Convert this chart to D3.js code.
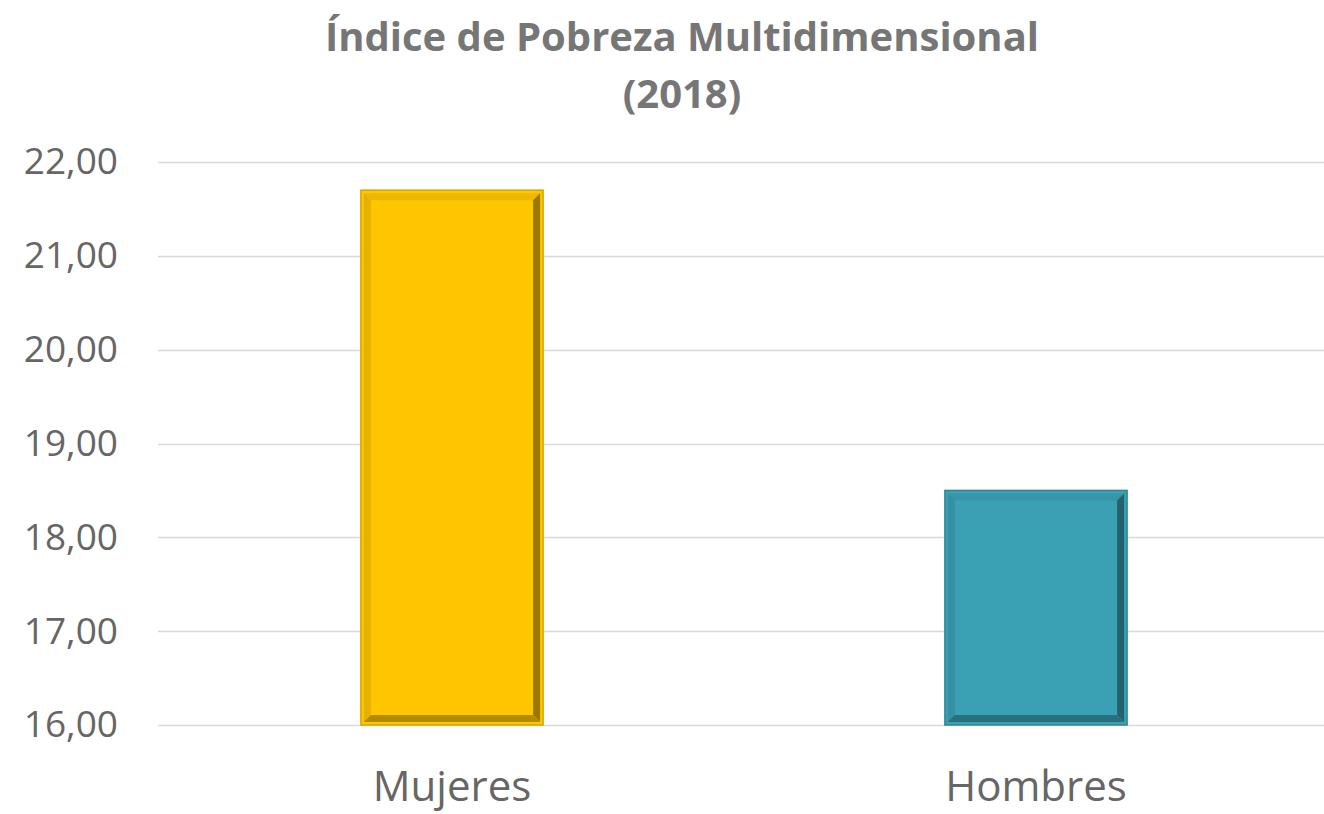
<!DOCTYPE html>
<html>
<head>
<meta charset="utf-8">
<script src="https://cdn.jsdelivr.net/npm/d3@7"></script>
<style>
  body { margin: 0; background: #fff; }
  text { font-family: "Open Sans", "Liberation Sans", sans-serif; }
</style>
</head>
<body>
<div id="chart"></div>
<script>
// data
const categories = ['Mujeres', 'Hombres'];
const values = [21.70, 18.50];
const barColors = ['#FFC600', '#3AA0B4'];
const yTicks = [16, 17, 18, 19, 20, 21, 22];
const titleLines = ['Índice de Pobreza Multidimensional', '(2018)'];

const W = 1324, H = 814;
const margin = {top: 162, right: 0, bottom: 89, left: 158};

const svg = d3.select('#chart').append('svg')
    .attr('width', W)
    .attr('height', H);

const yScale = d3.scaleLinear()
    .domain([16, 22])
    .range([H - margin.bottom, margin.top]);

const xScale = d3.scaleBand()
    .domain(categories)
    .range([margin.left + 2, W + 4])
    .paddingInner(0.688)
    .paddingOuter(0.344);

// gridlines
svg.append('g')
    .selectAll('line')
    .data(yTicks)
    .enter().append('line')
    .attr('x1', margin.left)
    .attr('x2', W)
    .attr('y1', d => Math.round(yScale(d)) + 0.5)
    .attr('y2', d => Math.round(yScale(d)) + 0.5)
    .attr('stroke', '#D9D9D9')
    .attr('stroke-width', 1.5);

// y axis labels
const yAxis = svg.append('g')
    .attr('transform', `translate(${margin.left - 40}, 0)`)
    .call(d3.axisLeft(yScale).tickValues(yTicks).tickSize(0)
        .tickFormat(d => d3.format('.2f')(d).replace('.', ',')));
yAxis.select('.domain').remove();
yAxis.selectAll('text')
    .attr('font-size', 37)
    .attr('fill', '#666666')
    .attr('text-anchor', 'end')
    .attr('x', 0)
    .style('font-family', '"Open Sans", sans-serif');

// x axis labels
const xAxis = svg.append('g')
    .attr('transform', `translate(0, ${H - margin.bottom})`)
    .call(d3.axisBottom(xScale).tickSize(0));
xAxis.select('.domain').remove();
xAxis.selectAll('text')
    .attr('font-size', 42)
    .attr('fill', '#666666')
    .attr('y', 46)
    .attr('dy', '0.71em')
    .style('font-family', '"Open Sans", sans-serif');

// bars with bevel
const bars = svg.append('g').selectAll('g')
    .data(categories)
    .enter().append('g')
    .attr('class', 'bar');

bars.append('rect')
    .attr('x', d => xScale(d))
    .attr('y', (d, i) => yScale(values[i]))
    .attr('width', xScale.bandwidth())
    .attr('height', (d, i) => yScale(16) - yScale(values[i]))
    .attr('fill', (d, i) => barColors[i])
    .attr('stroke', (d, i) => d3.color(barColors[i]).darker(0.5))
    .attr('stroke-width', 1.5);

// bevel edges (top, left, right, bottom)
const inset = 3, bw = 7;
function bevel(d, i) {
    const x0 = xScale(d) + inset, x1 = xScale(d) + xScale.bandwidth() - inset;
    const y0 = yScale(values[i]) + inset, y1 = yScale(16) - inset;
    return [
        {pts: [[x0, y0], [x1, y0], [x1 - bw, y0 + bw], [x0 + bw, y0 + bw]], k: 0.2},
        {pts: [[x0, y0], [x0 + bw, y0 + bw], [x0 + bw, y1 - bw], [x0, y1]], k: 0.3},
        {pts: [[x1, y0], [x1, y1], [x1 - bw, y1 - bw], [x1 - bw, y0 + bw]], k: 1.4},
        {pts: [[x0, y1], [x1, y1], [x1 - bw, y1 - bw], [x0 + bw, y1 - bw]], k: 1.0}
    ].map(p => ({pts: p.pts, fill: d3.color(barColors[i]).darker(p.k)}));
}
bars.each(function (d, i) {
    d3.select(this).selectAll('polygon')
        .data(bevel(d, i))
        .enter().append('polygon')
        .attr('points', p => p.pts.map(q => q.join(',')).join(' '))
        .attr('fill', p => p.fill);
});

// title
svg.append('g').selectAll('text')
    .data(titleLines)
    .enter().append('text')
    .attr('x', 682)
    .attr('y', (d, i) => 51 + i * 57)
    .attr('text-anchor', 'middle')
    .attr('font-size', 40)
    .attr('font-weight', 'bold')
    .attr('fill', '#767676')
    .text(d => d);
</script>
</body>
</html>
